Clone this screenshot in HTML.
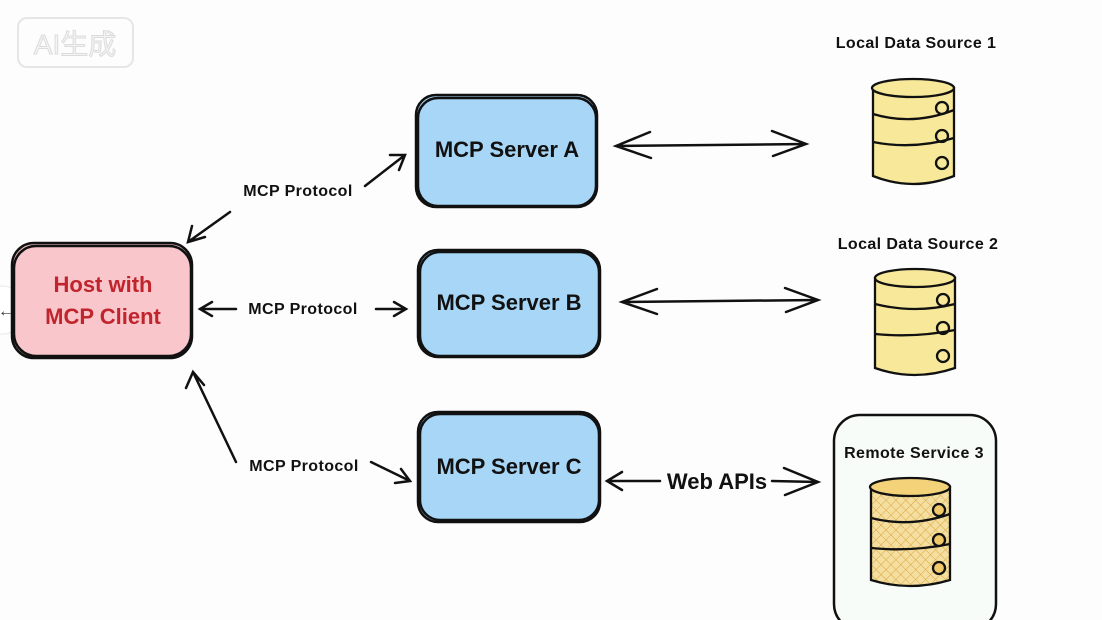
<!DOCTYPE html>
<html><head><meta charset="utf-8"><style>
html,body{margin:0;padding:0;background:#fff;}
svg{display:block;}
text{font-family:"Liberation Sans","Noto Sans CJK SC",sans-serif;}
</style></head><body>
<svg width="1102" height="620" viewBox="0 0 1102 620" xmlns="http://www.w3.org/2000/svg">
<defs>
<pattern id="hatch" width="7" height="7" patternUnits="userSpaceOnUse" patternTransform="rotate(45)">
<rect width="7" height="7" fill="#f5dfa0"/>
<path d="M0 0V7M0 0H7" stroke="#d9a640" stroke-width="1"/>
</pattern>
</defs>
<rect width="1102" height="620" fill="#fdfdfd"/>
<!-- watermark -->
<rect x="18" y="18" width="115" height="49" rx="9" fill="none" stroke="#e6e6e6" stroke-width="2"/>
<text x="75" y="54" font-size="28" fill="#f4f4f4" stroke="#dcdcdc" stroke-width="1" text-anchor="middle">AI生成</text>
<!-- left circle -->
<circle cx="2" cy="310" r="24" fill="#fff" stroke="#e8e8e8"/>
<text x="6" y="316" font-size="16" fill="#333" text-anchor="middle">←</text>

<g stroke="#111" stroke-width="2.5" fill="none" stroke-linecap="round">
<rect x="12" y="243" width="180" height="115" rx="22" fill="#f8c6cb"/>
<rect x="14" y="246" width="177" height="110" rx="22"/>
<rect x="416" y="95" width="181" height="112" rx="20" fill="#a7d6f7"/>
<rect x="418" y="98" width="178" height="108" rx="20"/>
<rect x="418" y="250" width="182" height="107" rx="20" fill="#a7d6f7"/>
<rect x="420" y="252" width="179" height="104" rx="20"/>
<rect x="418" y="412" width="182" height="110" rx="20" fill="#a7d6f7"/>
<rect x="420" y="414" width="179" height="106" rx="20"/>
<rect x="834" y="415" width="162" height="215" rx="26" fill="#f8fcf8"/>

<path d="M365 186 L405 155 M390 155 L405 155 L399 170"/>
<path d="M230 212 L188 242 M192 226 L188 242 L205 237"/>
<path d="M236 309 L200 309 M212 302 L200 309 L212 316"/>
<path d="M376 309 L406 309 M394 302 L406 309 L394 316"/>
<path d="M236 462 L193 372 M186 388 L193 372 L204 385"/>
<path d="M371 462 L410 481 M395 483 L410 481 L401 469"/>
<path d="M616 146 L806 144 M650 132 L616 146 L651 158 M772 131 L806 144 L773 156"/>
<path d="M622 302 L818 300 M657 289 L622 302 L657 314 M785 288 L818 300 L786 312"/>
<path d="M607 481 L660 481 M622 472 L607 481 L622 490 M772 481 L818 482 M784 468 L818 482 L785 495"/>
</g>

<g stroke="#111" stroke-width="2.3">
<g>
<path d="M873 88 V176 Q913 192 954 176 V88 Z" fill="#f8e99a"/>
<ellipse cx="913" cy="88" rx="41" ry="9" fill="#f8e99a"/>
<path d="M873 114 Q913 126 954 110 M873 142 Q913 150 954 138" fill="none"/>
<circle cx="942" cy="108" r="6" fill="none"/><circle cx="942" cy="136" r="6" fill="none"/><circle cx="942" cy="163" r="6" fill="none"/>
</g>
<g>
<path d="M875 278 V368 Q914 382 955 368 V278 Z" fill="#f8e99a"/>
<ellipse cx="915" cy="278" rx="40" ry="9" fill="#f8e99a"/>
<path d="M875 304 Q915 314 955 304 M875 334 Q915 338 955 330" fill="none"/>
<circle cx="943" cy="300" r="6" fill="none"/><circle cx="943" cy="328" r="6" fill="none"/><circle cx="943" cy="356" r="6" fill="none"/>
</g>
<g>
<path d="M871 487 V580 Q910 592 950 580 V487 Z" fill="url(#hatch)"/>
<ellipse cx="910" cy="487" rx="40" ry="9" fill="#f3d27a"/>
<path d="M871 518 Q910 528 950 514 M871 548 Q910 552 950 544" fill="none"/>
<circle cx="939" cy="510" r="6" fill="#f1c96a"/><circle cx="939" cy="540" r="6" fill="#f1c96a"/><circle cx="939" cy="568" r="6" fill="#f1c96a"/>
</g>
</g>

<g font-size="22" font-weight="bold" text-anchor="middle" fill="#111">
<text x="103" y="292" fill="#c0242c">Host with</text>
<text x="103" y="324" fill="#c0242c">MCP Client</text>
<text x="507" y="157">MCP Server A</text>
<text x="509" y="310">MCP Server B</text>
<text x="509" y="474">MCP Server C</text>
<text x="717" y="489">Web APIs</text>
</g>
<g font-size="16" font-weight="bold" text-anchor="middle" fill="#111" letter-spacing="0.4">
<text x="298" y="196">MCP Protocol</text>
<text x="303" y="314">MCP Protocol</text>
<text x="304" y="471">MCP Protocol</text>
<text x="916" y="48">Local Data Source 1</text>
<text x="918" y="249">Local Data Source 2</text>
<text x="914" y="458">Remote Service 3</text>
</g>
</svg>
</body></html>
